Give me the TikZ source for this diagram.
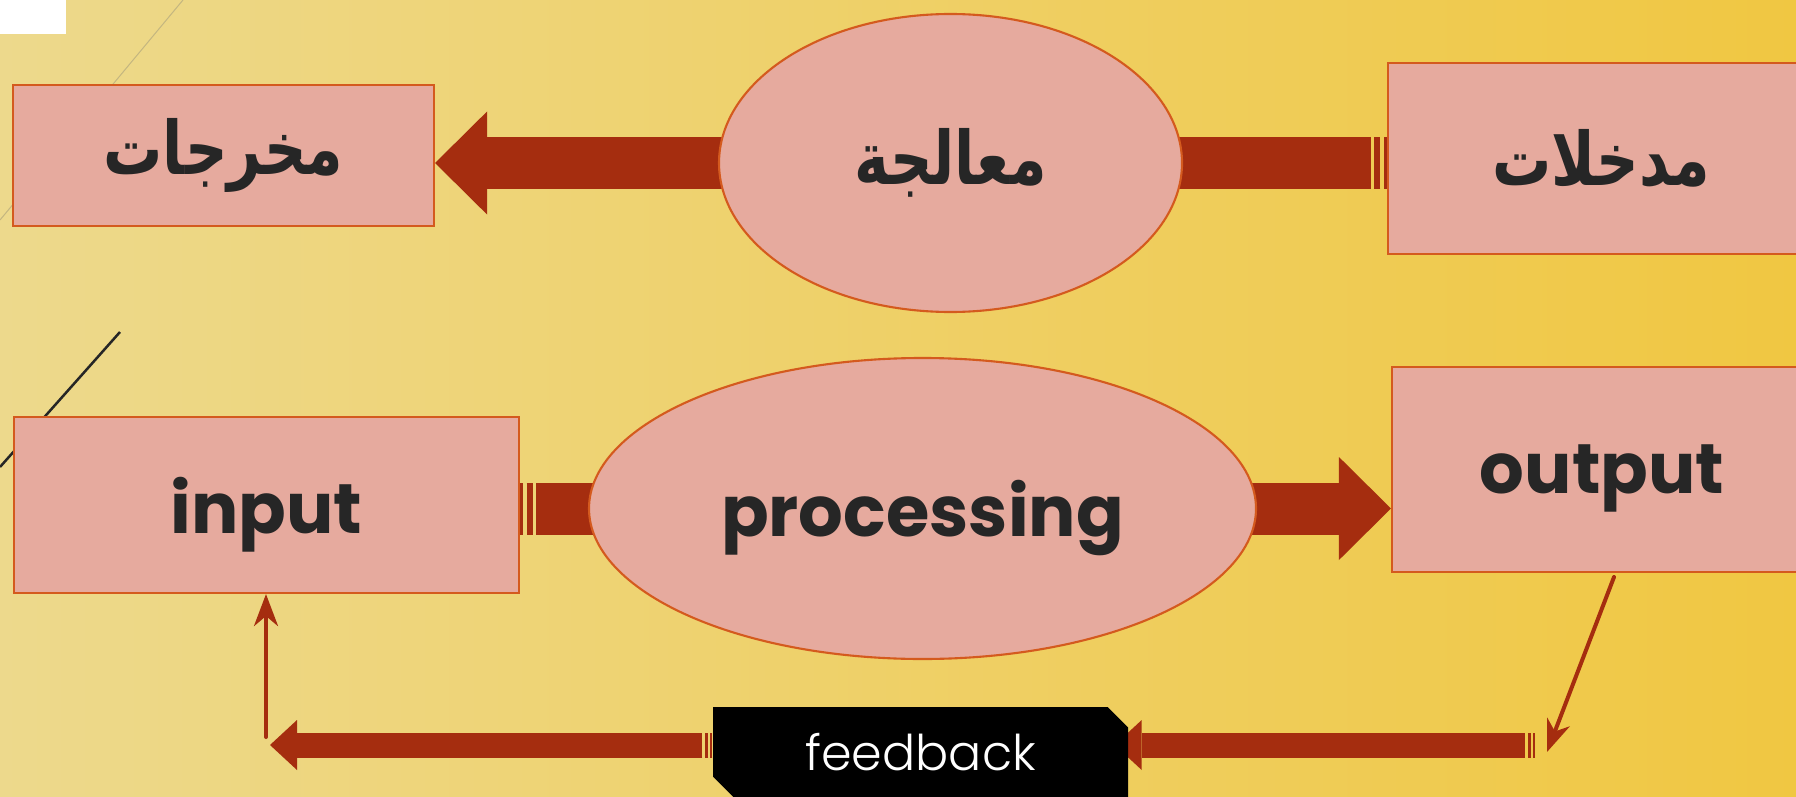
\documentclass[tikz,border=0pt]{standalone}
\usepackage{fontspec}
\setmainfont{Poppins}
\newfontfamily\arabicfont[Script=Arabic]{DejaVu Sans}
\newfontfamily\fbfont{Poppins Light}
\TeXXeTstate=1
\usetikzlibrary{arrows.meta,shapes.geometric,shapes.misc}
\definecolor{bgL}{RGB}{237,217,140}
\definecolor{bgR}{RGB}{240,199,66}
\definecolor{boxfill}{RGB}{230,170,158}
\definecolor{boxline}{RGB}{212,90,30}
\definecolor{arrowred}{RGB}{165,45,15}
\definecolor{ink}{RGB}{38,38,38}
\definecolor{tanline}{RGB}{196,182,128}
\pgfdeclarelayer{bg}
\pgfdeclarelayer{mid}
\pgfsetlayers{bg,mid,main}
\newcommand\artext[1]{\scalebox{0.8}[1]{\beginR #1\endR}}

\begin{document}
\begin{tikzpicture}[
    box/.style={draw=boxline, fill=boxfill, line width=0.6pt, inner sep=0pt, text=ink},
    blob/.style={ellipse, draw=boxline, fill=boxfill, line width=0.6pt, inner sep=0pt, text=ink},
    en/.style={font=\fontsize{20}{24}\selectfont\bfseries, text depth=0pt},
    ar/.style={font=\arabicfont\fontsize{21}{25}\selectfont\bfseries},
    bigarrow/.style={draw=arrowred, line width=0.52cm,
        dash pattern=on 0.03cm off 0.035cm on 0.06cm off 0.035cm on 30cm off 1cm,
        -{Triangle[length=0.52cm, width=1.03cm, line width=0pt]}},
    fbarrow/.style={draw=arrowred, line width=0.25cm,
        dash pattern=on 0.02cm off 0.02cm on 0.03cm off 0.03cm on 30cm off 1cm,
        -{Triangle[length=0.27cm, width=0.5cm, line width=0pt]}},
    thinarrow/.style={draw=arrowred, line width=0.04cm, line cap=round,
        -{Stealth[length=0.32cm, width=0.24cm, inset=0.1cm]}}
  ]
            \useasboundingbox (0,0) rectangle (17.96,-7.97);
            \begin{pgfonlayer}{bg}
              \shade[left color=bgL, right color=bgR] (0,0) rectangle (17.96,-7.97);
              \fill[white] (0,0) rectangle (0.66,-0.34);
              \draw[tanline, line width=0.01cm] (1.83,0) -- (0,-2.2);
              \draw[ink, line width=0.025cm] (1.2,-3.32) -- (0,-4.67);
            \end{pgfonlayer}

            \node[box, ar, minimum width=4.21cm, minimum height=1.41cm](OutAr) at (2.235,-1.555) {\artext{مخرجات}};
            \node[blob, ar, minimum width=4.63cm, minimum height=2.98cm](ProcAr) at (9.505,-1.63) {\artext{معالجة}};
            \node[box, ar, minimum width=4.26cm, minimum height=1.91cm](InAr) at (16.01,-1.585) {\artext{مدخلات}};
            \node[box, en, minimum width=5.05cm, minimum height=1.76cm](InEn) at (2.665,-5.05) {input};
            \node[blob, en, minimum width=6.67cm, minimum height=3.01cm](ProcEn) at (9.225,-5.085) {processing};
            \node[box, en, minimum width=4.2cm, minimum height=2.05cm](OutEn) at (16.02,-4.695) {output};
            \node[chamfered rectangle, chamfered rectangle corners={north east,south west},
                  chamfered rectangle xsep=0.075cm, fill=black, text=white, inner sep=0pt,
                  font=\fbfont\fontsize{14}{16}\selectfont,
                  minimum width=4.15cm, minimum height=0.9cm](FB) at (9.205,-7.52) {feedback};

            \coordinate (FbEnd) at (2.70,-7.45);
            \coordinate (FbStart) at (15.35,-7.45);
            \coordinate (UpFoot) at (2.66,-7.37);
            \coordinate (DropTop) at (16.14,-5.77);
            \coordinate (DropEnd) at (15.47,-7.52);

            \begin{pgfonlayer}{mid}
              \draw[bigarrow] (InAr.west |- ProcAr) -- (OutAr.east |- ProcAr);
              \draw[bigarrow] (InEn.east |- ProcEn) -- (OutEn.west |- ProcEn);
              \draw[fbarrow] (FB.west |- FbEnd) -- (FbEnd);
              \draw[fbarrow] (FbStart) -- ([xshift=-0.14cm]FB.east |- FbEnd);
            \end{pgfonlayer}
            \draw[thinarrow] (UpFoot) -- (UpFoot |- InEn.south);
            \draw[thinarrow] (DropTop) -- (DropEnd);
        \end{tikzpicture}
\end{document}
